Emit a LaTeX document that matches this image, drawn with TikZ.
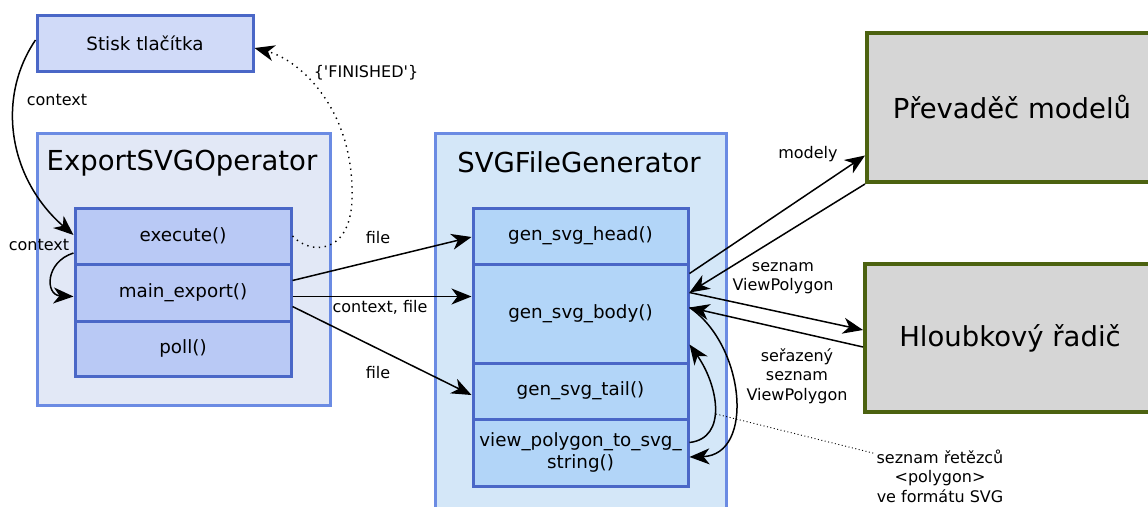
\documentclass[tikz,border=0pt]{standalone}
\usepackage{fontspec}
\setmainfont{DejaVu Sans}
\usetikzlibrary{arrows.meta,calc}
\definecolor{darkb}{HTML}{4A67C7}
\definecolor{lightb}{HTML}{6B8BE3}
\definecolor{stiskfill}{HTML}{D0DAF8}
\definecolor{outAfill}{HTML}{E2E8F6}
\definecolor{inAfill}{HTML}{B9C9F5}
\definecolor{outBfill}{HTML}{D4E7F8}
\definecolor{inBfill}{HTML}{B2D5F8}
\definecolor{greyfill}{HTML}{D6D6D6}
\definecolor{olive}{HTML}{4C6210}
\tikzset{
  box/.style={draw=darkb, line width=3pt, rectangle, inner sep=0pt, align=center, font=\fontsize{18.3}{22}\selectfont},
  outerbox/.style={draw=lightb, line width=3pt, rectangle, inner sep=0pt},
  ext/.style={draw=olive, fill=greyfill, line width=4pt, rectangle, inner sep=0pt, font=\fontsize{27.5}{32}\selectfont},
  title/.style={font=\fontsize{27.5}{32}\selectfont, inner sep=0pt},
  lbl/.style={font=\fontsize{16}{19.5}\selectfont, align=center, inner sep=0pt},
  tip/.tip={Stealth[length=20pt,width=16pt,inset=6pt]},
  arr/.style={-tip, line width=1.5pt},
  dotline/.style={line width=1.4pt, dash pattern=on 1.4pt off 4.5pt},
}
\begin{document}
\begin{tikzpicture}[x=1pt,y=-1pt]
\useasboundingbox (0,0) rectangle (1148,506);
\clip (0,0) rectangle (1148,506);
% outer containers
\node[outerbox, fill=outAfill, minimum width=293pt, minimum height=272pt] (expop) at (183.5,269) {};
\node[title] (exptitle) at (182,163) {ExportSVGOperator};
\node[outerbox, fill=outBfill, minimum width=291pt, minimum height=387pt] (svggen) at (580.5,326.5) {};
\node[title] (svgtitle) at (579,162) {SVGFileGenerator};
% button
\node[box, fill=stiskfill, minimum width=216pt, minimum height=56pt] (stisk) at (145,43) {Stisk tlačítka};
% inner A
\node[box, fill=inAfill, minimum width=216pt, minimum height=56pt] (execute) at (183,236) {execute()};
\node[box, fill=inAfill, minimum width=216pt, minimum height=57pt] (mainexp) at (183,292.5) {main\_export()};
\node[box, fill=inAfill, minimum width=216pt, minimum height=55pt] (poll) at (183,348.5) {poll()};
% inner B
\node[box, fill=inBfill, minimum width=215pt, minimum height=56pt] (head) at (580.5,236) {gen\_svg\_head()};
\node[box, fill=inBfill, minimum width=215pt, minimum height=99pt] (body) at (580.5,313.5) {gen\_svg\_body()};
\node[box, fill=inBfill, minimum width=215pt, minimum height=56pt] (tail) at (580.5,391) {gen\_svg\_tail()};
\node[box, fill=inBfill, minimum width=215pt, minimum height=67pt] (vp) at (580.5,452.5) {view\_polygon\_to\_svg\_\\string()};
% external
\node[ext, minimum width=290pt, minimum height=149pt] (prev) at (1012,107.5) {Převaděč modelů};
\node[ext, minimum width=290pt, minimum height=148pt] (hloub) at (1010,338) {Hloubkový řadič};

% connectors left
\draw[arr] ([yshift=3pt]stisk.west) .. controls (-5,100) and (10,180) .. ([yshift=1pt]execute.west);
\node[lbl] (lctx1) at (57,100) {context};
\draw[arr] ([yshift=-17pt]execute.west) .. controls (45,262) and (45,295) .. ([yshift=-4pt]mainexp.west);
\node[lbl] (lctx2) at (39,245) {context};
\draw[dotline, -tip] (execute.east) .. controls (310,255) and (350,255) .. (352,200) .. controls (355,110) and (300,60) .. ([yshift=-5pt]stisk.east);
\node[lbl] (lfin) at (366,73) {\{\textquotesingle FINISHED\textquotesingle\}};

\draw[arr] ([yshift=12pt]mainexp.east) -- ([yshift=-1pt]head.west);
\node[lbl] (lfile1) at (378,238) {file};
\draw[arr] ([yshift=-4pt]mainexp.east) -- ([yshift=17pt]body.west);
\node[lbl] (lcf) at (380,307) {context, file};
\draw[arr] ([yshift=-14pt]mainexp.east) -- ([yshift=-4pt]tail.west);
\node[lbl] (lfile2) at (378,373) {file};

% connectors right
\draw[arr] ([yshift=40pt]body.east) -- ([yshift=-48pt]prev.west);
\node[lbl] (lmod) at (808,154) {modely};
\draw[arr] (prev.south west) -- ([yshift=21pt]body.east);
\draw[arr] ([yshift=21pt]body.east) -- ([yshift=8pt]hloub.west);
\node[lbl] (lsez) at (783,278) {seznam\\ViewPolygon};
\draw[arr] ([yshift=-9pt]hloub.west) -- ([yshift=6pt]body.east);
\node[lbl] (lser) at (797,376) {seřazený\\seznam\\ViewPolygon};

\draw[arr] ([yshift=10pt]vp.east) .. controls (728,438) and (718,385) .. ([yshift=-31pt]body.east);
\draw[arr] ([yshift=6pt]body.east) .. controls (745,345) and (755,455) .. ([yshift=-4.5pt]vp.east);
\coordinate (ntstart) at (716,414);
\node[lbl] (note) at (940,476) {seznam řetězců\\<polygon>\\ve formátu SVG};
\draw[line width=0.9pt, dash pattern=on 1pt off 2.5pt] (ntstart) -- ([xshift=-2pt,yshift=-4pt]note.north west);
\end{tikzpicture}
\end{document}
